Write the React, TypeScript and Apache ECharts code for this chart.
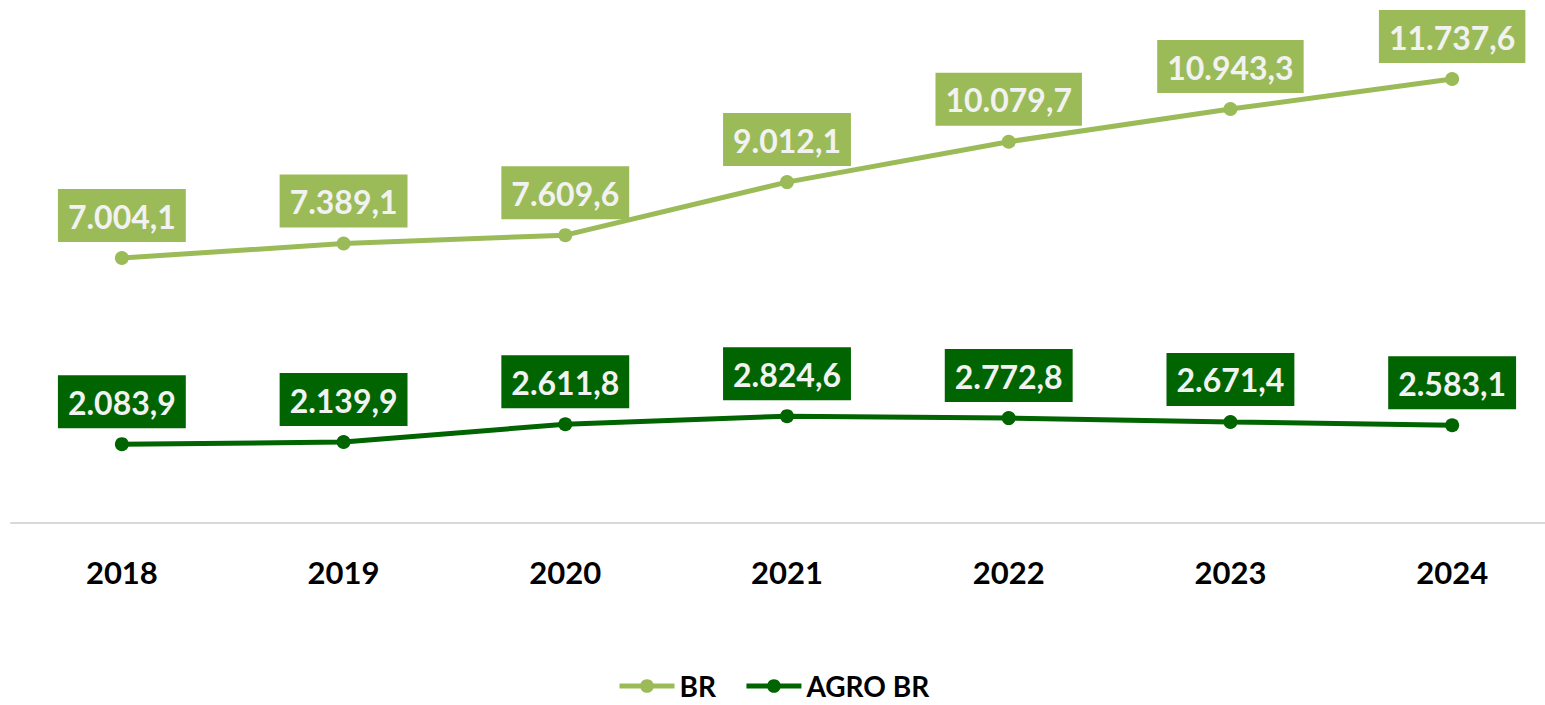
import React, { useEffect, useRef } from "react";
import * as echarts from "echarts";

const years = ["2018", "2019", "2020", "2021", "2022", "2023", "2024"];
const brValues = [7004.1, 7389.1, 7609.6, 9012.1, 10079.7, 10943.3, 11737.6];
const agroValues = [2083.9, 2139.9, 2611.8, 2824.6, 2772.8, 2671.4, 2583.1];

const BR_COLOR = "#9bbb59";
const AGRO_COLOR = "#006400";
const FONT = "Lato";

const fmt = (v: number) =>
  v.toLocaleString("pt-BR", { minimumFractionDigits: 1, maximumFractionDigits: 1 });

export default function App() {
  const ref = useRef<HTMLDivElement>(null);
  useEffect(() => {
    document.body.style.margin = "0";
    if (!ref.current) return;
    const chart = echarts.init(ref.current, undefined, { renderer: "svg" });
    const mkLabel = (color: string) => ({
      show: true,
      position: "top",
      distance: 9,
      formatter: (p: any) => fmt(p.value),
      color: "#f2f2f2",
      fontFamily: FONT,
      fontWeight: "bold",
      fontSize: 32,
      backgroundColor: color,
      padding: [11, 10, 10, 10],
    });
    chart.setOption({
      animation: false,
      grid: { left: 11, right: 0, top: 1, bottom: 182, containLabel: false },
      xAxis: {
        type: "category",
        data: years,
        boundaryGap: true,
        axisLine: { show: true, lineStyle: { color: "#d9d9d9", width: 2 } },
        axisTick: { show: false },
        axisLabel: {
          color: "#000",
          fontFamily: FONT,
          fontWeight: "bold",
          fontSize: 31,
          margin: 33,
        },
      },
      yAxis: {
        type: "value",
        min: 0,
        max: 13800,
        show: false,
        splitLine: { show: false },
      },
      legend: {
        top: 672,
        left: 617,
        padding: 0,
        itemWidth: 55,
        itemHeight: 17,
        itemGap: 28,
        lineStyle: { width: 5 },
        textStyle: { color: "#000", fontFamily: FONT, fontWeight: "bold", fontSize: 28, lineHeight: 28 },
        data: ["BR", "AGRO BR"],
      },
      series: [
        {
          name: "BR",
          type: "line",
          data: brValues,
          symbol: "circle",
          symbolSize: 14,
          itemStyle: { color: BR_COLOR },
          lineStyle: { color: BR_COLOR, width: 5 },
          label: mkLabel(BR_COLOR),
        },
        {
          name: "AGRO BR",
          type: "line",
          data: agroValues,
          symbol: "circle",
          symbolSize: 14,
          itemStyle: { color: AGRO_COLOR },
          lineStyle: { color: AGRO_COLOR, width: 5 },
          label: mkLabel(AGRO_COLOR),
        },
      ],
    });
    return () => chart.dispose();
  }, []);
  return (
    <div style={{ width: 1545, height: 705, overflow: "hidden" }}>
      <div ref={ref} style={{ width: 1563, height: 705 }} />
    </div>
  );
}
